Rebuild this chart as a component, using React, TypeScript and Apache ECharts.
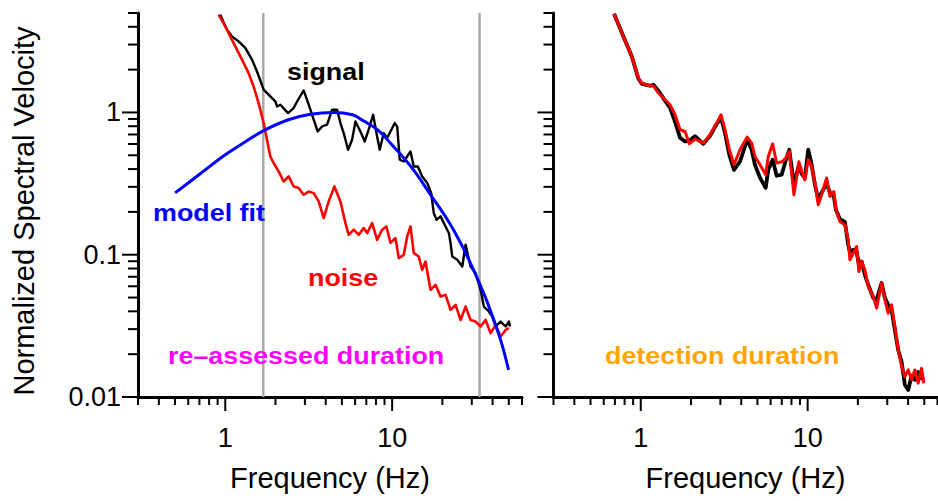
import React, { useEffect, useRef } from "react";
import * as echarts from "echarts";

// ---- axis ranges & ticks ----
const X_MIN = 0.3;
const X_MAX = 60;
const Y_MIN = 0.01;
const Y_MAX = 5;
const xMajorTicks = [1, 10];
const xTickLabels = ["1", "10"];
const xMinorTicks = [0.3, 0.4, 0.5, 0.6, 0.7, 0.8, 0.9, 2, 3, 4, 5, 6, 7, 8, 9, 20, 30, 40, 50, 60];
const yMajorTicks = [0.01, 0.1, 1];
const yTickLabels = ["0.01", "0.1", "1"];
const yMinorTicks = [0.02, 0.03, 0.04, 0.05, 0.06, 0.07, 0.08, 0.09, 0.2, 0.3, 0.4, 0.5, 0.6, 0.7, 0.8, 0.9, 2, 3, 4, 5];

// ---- left panel: re-assessed duration ----
const durationLines = [1.69, 33.4];

const signalFreq = [0.933, 1.024, 1.097, 1.202, 1.318, 1.446, 1.55, 1.698, 1.862, 1.995, 2.042, 2.138, 2.378, 2.569, 2.731, 2.95, 3.091, 3.236, 3.387, 3.579, 3.803, 4.075, 4.266, 4.367, 4.679, 4.898, 5.125, 5.446, 5.755, 6.026, 6.457, 6.847, 7.236, 7.691, 8.128, 8.426, 8.904, 9.333, 9.772, 10.37, 10.72, 11.11, 11.74, 12.3, 12.88, 13.48, 14.25, 15.14, 16.23, 17.14, 17.77, 18.45, 19.5, 20.89, 21.87, 22.39, 22.92, 24.56, 26.32, 27.54, 29.51, 31.62, 33.88, 35.46, 37.99, 39.83, 41.69, 44.67, 47.86, 50.1, 50.8];
const signalVal = [4.87, 3.82, 3.42, 3.16, 2.84, 2.35, 1.94, 1.445, 1.296, 1.195, 1.102, 1.133, 0.99, 1.074, 1.228, 1.428, 1.228, 1.045, 0.889, 0.735, 0.797, 0.82, 0.963, 1.045, 1.045, 0.842, 0.716, 0.547, 0.643, 0.864, 0.735, 0.625, 0.756, 0.963, 0.678, 0.547, 0.716, 0.661, 0.735, 0.842, 0.797, 0.465, 0.452, 0.49, 0.532, 0.417, 0.417, 0.355, 0.319, 0.271, 0.196, 0.176, 0.186, 0.158, 0.142, 0.1207, 0.0971, 0.0921, 0.0826, 0.1174, 0.0826, 0.0743, 0.0566, 0.0432, 0.0399, 0.0367, 0.0313, 0.0339, 0.0313, 0.0339, 0.0313];

const noiseFreq = [0.912, 1.0, 1.097, 1.202, 1.288, 1.38, 1.478, 1.584, 1.698, 1.779, 1.862, 1.949, 2.088, 2.237, 2.397, 2.569, 2.753, 2.95, 3.161, 3.387, 3.629, 3.889, 4.167, 4.508, 4.898, 5.248, 5.492, 5.886, 6.306, 6.756, 7.082, 7.588, 8.128, 8.71, 9.243, 9.772, 10.47, 10.96, 11.74, 12.3, 12.88, 13.48, 14.44, 15.14, 15.85, 16.98, 18.2, 19.5, 20.89, 22.39, 23.99, 25.7, 27.54, 29.51, 31.62, 33.88, 36.31, 38.9, 41.69, 44.67, 47.86, 50.1];
const noiseVal = [4.87, 4.02, 3.24, 2.62, 2.23, 1.89, 1.523, 1.165, 0.842, 0.643, 0.49, 0.441, 0.385, 0.327, 0.355, 0.302, 0.294, 0.264, 0.278, 0.271, 0.237, 0.181, 0.237, 0.302, 0.237, 0.167, 0.138, 0.15, 0.138, 0.154, 0.142, 0.167, 0.127, 0.15, 0.158, 0.121, 0.131, 0.0946, 0.0998, 0.134, 0.158, 0.1026, 0.0971, 0.0783, 0.0896, 0.0566, 0.0614, 0.0508, 0.0522, 0.041, 0.0444, 0.0348, 0.0432, 0.0348, 0.0339, 0.0313, 0.0348, 0.0281, 0.0321, 0.0266, 0.0296, 0.0305];

const fitFreq = [0.501, 0.708, 1.0, 1.318, 1.69, 2.39, 3.24, 4.45, 5.78, 6.73, 8.16, 10.18, 13.42, 16.98, 21.46, 25.69, 30.73, 37.3, 44.64, 49.86];
const fitVal = [0.272, 0.371, 0.504, 0.622, 0.743, 0.889, 0.971, 1.0, 0.963, 0.874, 0.756, 0.577, 0.395, 0.264, 0.176, 0.1213, 0.0783, 0.0459, 0.0252, 0.0155];

// ---- right panel: detection duration ----
const rightFreq = [0.692, 0.787, 0.883, 0.967, 1.014, 1.137, 1.19, 1.275, 1.398, 1.497, 1.605, 1.719, 1.842, 1.954, 2.114, 2.371, 2.6, 2.852, 3.026, 3.197, 3.393, 3.62, 3.932, 4.347, 4.621, 4.835, 5.181, 5.604, 5.809, 6.171, 6.522, 6.987, 7.414, 7.759, 8.279, 8.87, 9.206, 9.634, 10.08, 10.57, 11.06, 11.57, 12.13, 13.0, 13.6, 14.37, 14.77, 15.61, 16.73, 17.51, 17.92, 18.76, 19.66, 20.29, 21.06, 22.03, 23.07, 24.71, 25.9, 27.74, 29.03, 30.38, 31.84, 33.33, 34.88, 36.56, 38.24, 40.05, 41.97, 43.9, 45.95, 48.15, 49.7];
const rightBlackVal = [4.94, 3.42, 2.48, 1.73, 1.59, 1.541, 1.566, 1.42, 1.21, 1.08, 0.86, 0.664, 0.625, 0.632, 0.68, 0.602, 0.685, 0.832, 0.918, 0.719, 0.504, 0.395, 0.452, 0.643, 0.547, 0.429, 0.348, 0.295, 0.395, 0.465, 0.359, 0.365, 0.465, 0.547, 0.31, 0.429, 0.371, 0.348, 0.547, 0.429, 0.31, 0.247, 0.273, 0.317, 0.273, 0.256, 0.207, 0.178, 0.17, 0.117, 0.1048, 0.1083, 0.1048, 0.0849, 0.0896, 0.0722, 0.0614, 0.0498, 0.0482, 0.0633, 0.0498, 0.0444, 0.041, 0.0296, 0.0214, 0.0177, 0.0122, 0.0112, 0.0141, 0.0132, 0.015, 0.0136, 0.0132];
const rightRedVal = [4.94, 3.42, 2.48, 1.746, 1.609, 1.541, 1.541, 1.369, 1.228, 1.133, 0.963, 0.756, 0.735, 0.602, 0.65, 0.609, 0.697, 0.842, 0.963, 0.756, 0.547, 0.429, 0.547, 0.671, 0.609, 0.49, 0.429, 0.365, 0.49, 0.602, 0.441, 0.45, 0.478, 0.532, 0.264, 0.45, 0.385, 0.336, 0.465, 0.417, 0.319, 0.224, 0.264, 0.346, 0.257, 0.278, 0.207, 0.171, 0.162, 0.127, 0.0921, 0.1026, 0.1142, 0.0762, 0.0896, 0.0783, 0.0597, 0.0508, 0.0421, 0.0631, 0.0482, 0.0388, 0.0444, 0.0313, 0.0214, 0.0164, 0.0139, 0.0155, 0.0132, 0.0155, 0.0125, 0.0159, 0.0125];

const FONT = '"Liberation Sans", Arial, Helvetica, sans-serif';

const pairs = (xs: number[], ys: number[]) => xs.map((x, i) => [x, ys[i]]);

const labelFrom = (vals: number[], labels: string[]) => (v: number) => {
  const i = vals.findIndex((t) => Math.abs(Math.log10(t) - Math.log10(v)) < 1e-6);
  return i >= 0 ? labels[i] : "";
};

function tickSeries(gridIndex: number) {
  const data: number[][] = [];
  xMajorTicks.forEach((v) => data.push([v, Y_MIN, 0, 1]));
  xMinorTicks.forEach((v) => data.push([v, Y_MIN, 0, 0]));
  yMajorTicks.forEach((v) => data.push([X_MIN, v, 1, 1]));
  yMinorTicks.forEach((v) => data.push([X_MIN, v, 1, 0]));
  return {
    type: "custom",
    xAxisIndex: gridIndex,
    yAxisIndex: gridIndex,
    silent: true,
    clip: false,
    z: 5,
    encode: { x: 0, y: 1 },
    data,
    renderItem: (_p: any, api: any) => {
      const p = api.coord([api.value(0), api.value(1)]);
      const isY = api.value(2) === 1;
      const major = api.value(3) === 1;
      if (!isY) {
        return {
          type: "line",
          shape: { x1: p[0], y1: p[1] + 1, x2: p[0], y2: p[1] + (major ? 14 : 8) },
          style: { stroke: "#000", lineWidth: 2 },
        };
      }
      return {
        type: "line",
        shape: { x1: p[0] - 1, y1: p[1], x2: p[0] - (major ? 16 : 10), y2: p[1] },
        style: { stroke: "#000", lineWidth: 2 },
      };
    },
  };
}

function xAxisCfg(gridIndex: number) {
  return {
    type: "log",
    logBase: 10,
    gridIndex,
    min: X_MIN,
    max: X_MAX,
    axisLine: { show: true, lineStyle: { color: "#000", width: 3 } },
    axisTick: { show: false },
    minorTick: { show: false },
    splitLine: { show: false },
    minorSplitLine: { show: false },
    axisLabel: {
      formatter: labelFrom(xMajorTicks, xTickLabels),
      color: "#000",
      fontSize: 27,
      fontFamily: FONT,
      margin: 27,
    },
    name: "Frequency (Hz)",
    nameLocation: "middle",
    nameGap: 66,
    nameTextStyle: { color: "#000", fontSize: 29, fontFamily: FONT },
  };
}

function yAxisCfg(gridIndex: number, withLabels: boolean) {
  return {
    type: "log",
    logBase: 10,
    gridIndex,
    min: Y_MIN,
    max: Y_MAX,
    axisLine: { show: true, lineStyle: { color: "#000", width: 3 } },
    axisTick: { show: false },
    minorTick: { show: false },
    splitLine: { show: false },
    minorSplitLine: { show: false },
    axisLabel: {
      show: withLabels,
      formatter: labelFrom(yMajorTicks, yTickLabels),
      color: "#000",
      fontSize: 27,
      fontFamily: FONT,
      margin: 17,
    },
    name: withLabels ? "Normalized Spectral Velocity" : "",
    nameLocation: "middle",
    nameRotate: 90,
    nameGap: 100,
    nameTextStyle: { color: "#000", fontSize: 29, fontFamily: FONT, padding: [0, 12, 0, 0] },
  };
}

function line(name: string, xs: number[], ys: number[], idx: number, color: string, width: number, z: number, smooth: boolean | number = false) {
  return {
    name,
    type: "line",
    xAxisIndex: idx,
    yAxisIndex: idx,
    data: pairs(xs, ys),
    showSymbol: false,
    symbol: "none",
    smooth,
    silent: true,
    z,
    lineStyle: { color, width, join: "round" },
  };
}

function annotation(text: string, x: number, y: number, color: string) {
  return {
    type: "text",
    x,
    y,
    scaleX: 1.12,
    z: 20,
    style: {
      text,
      fill: color,
      fontSize: 24,
      fontWeight: "bold",
      fontFamily: FONT,
      textAlign: "left",
      textVerticalAlign: "middle",
      align: "left",
      verticalAlign: "middle",
    },
  };
}

export default function App() {
  const ref = useRef<HTMLDivElement>(null);
  useEffect(() => {
    if (!ref.current) return;
    const chart = echarts.init(ref.current, null, { renderer: "svg" });
    chart.setOption({
      animation: false,
      backgroundColor: "#fff",
      grid: [
        { left: 138, top: 13, width: 384, height: 384, containLabel: false, outerBoundsMode: "none" },
        { left: 553.5, top: 13, width: 384, height: 384, containLabel: false, outerBoundsMode: "none" },
      ],
      xAxis: [xAxisCfg(0), xAxisCfg(1)],
      yAxis: [yAxisCfg(0, true), yAxisCfg(1, false)],
      series: [
        {
          type: "custom",
          xAxisIndex: 0,
          yAxisIndex: 0,
          silent: true,
          z: 1,
          encode: { x: 0, y: 1 },
          data: durationLines.map((v) => [v, Y_MIN]),
          renderItem: (_p: any, api: any) => {
            const a = api.coord([api.value(0), Y_MIN]);
            const b = api.coord([api.value(0), Y_MAX]);
            return {
              type: "line",
              shape: { x1: a[0], y1: a[1], x2: b[0], y2: b[1] },
              style: { stroke: "#aaaaaa", lineWidth: 2.5 },
            };
          },
        },
        line("signal", signalFreq, signalVal, 0, "#000000", 2.4, 2),
        line("noise", noiseFreq, noiseVal, 0, "#ff0000", 2.6, 3),
        line("model fit", fitFreq, fitVal, 0, "#0000ff", 3, 4, 0.4),
        line("signal (detection)", rightFreq, rightBlackVal, 1, "#000000", 3.8, 2),
        line("noise (detection)", rightFreq, rightRedVal, 1, "#ff0000", 3, 3),
        tickSeries(0),
        tickSeries(1),
      ],
      graphic: [
        annotation("signal", 287, 72, "#000000"),
        annotation("model fit", 153, 213, "#0000ff"),
        annotation("noise", 308, 278, "#ff0000"),
        annotation("re\u2013assessed duration", 168, 356, "#ff00ff"),
        annotation("detection duration", 605, 356, "#ffa500"),
      ],
    });
    return () => chart.dispose();
  }, []);
  return (
    <div
      ref={ref}
      style={{ position: "fixed", left: 0, top: 0, width: 938, height: 501, background: "#fff" }}
    />
  );
}
